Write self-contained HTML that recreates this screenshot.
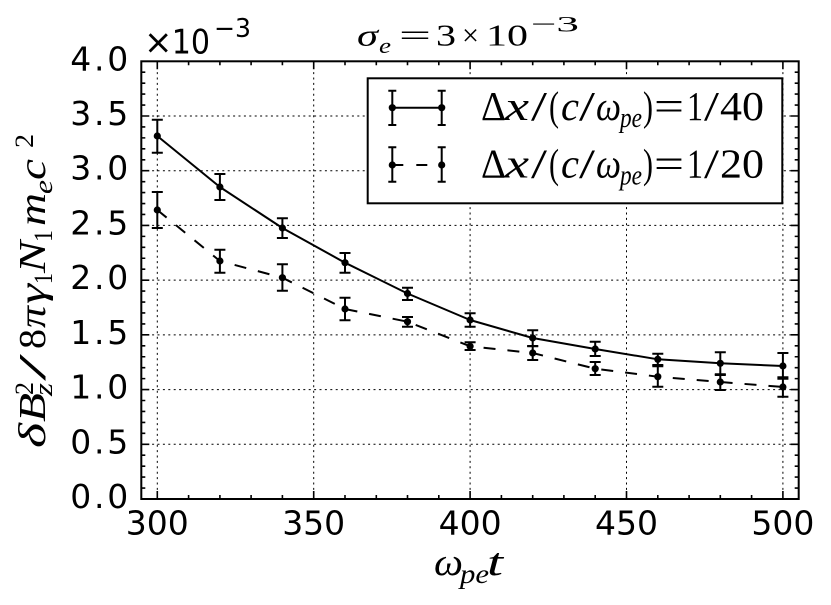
<!DOCTYPE html>
<html>
<head>
<meta charset="utf-8">
<style>
  html, body { margin: 0; padding: 0; background: #ffffff; }
  svg { display: block; }
  .tick { font-family: "DejaVu Sans", "Liberation Sans", sans-serif; font-size: 33px; fill: #000; }
  .m { font-family: "Liberation Serif", "DejaVu Serif", serif; fill: #000; }
  .i { font-style: italic; }
</style>
</head>
<body>
<svg width="831" height="605" viewBox="0 0 831 605" xmlns="http://www.w3.org/2000/svg">
  <rect x="0" y="0" width="831" height="605" fill="#ffffff"/>

  <!-- grid -->
  <g stroke="#000" stroke-width="1" stroke-dasharray="2 3.4" fill="none">
    <path d="M157.3 61.3 V499 M313.7 61.3 V499 M470.1 61.3 V499 M626.5 61.3 V499 M782.9 61.3 V499"/>
    <path d="M141.3 444.29 H798.7 M141.3 389.57 H798.7 M141.3 334.86 H798.7 M141.3 280.14 H798.7 M141.3 225.43 H798.7 M141.3 170.71 H798.7 M141.3 116.0 H798.7"/>
  </g>

  <!-- ticks -->
  <g stroke="#000" stroke-width="1.6" fill="none">
    <path d="M157.3 499 v-8 M313.7 499 v-8 M470.1 499 v-8 M626.5 499 v-8 M782.9 499 v-8"/>
    <path d="M157.3 61.3 v8 M313.7 61.3 v8 M470.1 61.3 v8 M626.5 61.3 v8 M782.9 61.3 v8"/>
    <path d="M188.6 499 v-4 M219.9 499 v-4 M251.1 499 v-4 M282.4 499 v-4 M345.0 499 v-4 M376.3 499 v-4 M407.5 499 v-4 M438.8 499 v-4 M501.4 499 v-4 M532.7 499 v-4 M563.9 499 v-4 M595.2 499 v-4 M657.8 499 v-4 M689.1 499 v-4 M720.3 499 v-4 M751.6 499 v-4"/>
    <path d="M188.6 61.3 v4 M219.9 61.3 v4 M251.1 61.3 v4 M282.4 61.3 v4 M345.0 61.3 v4 M376.3 61.3 v4 M407.5 61.3 v4 M438.8 61.3 v4 M501.4 61.3 v4 M532.7 61.3 v4 M563.9 61.3 v4 M595.2 61.3 v4 M657.8 61.3 v4 M689.1 61.3 v4 M720.3 61.3 v4 M751.6 61.3 v4"/>
    <path d="M141.3 444.29 h8 M141.3 389.57 h8 M141.3 334.86 h8 M141.3 280.14 h8 M141.3 225.43 h8 M141.3 170.71 h8 M141.3 116.0 h8"/>
    <path d="M798.7 444.29 h-8 M798.7 389.57 h-8 M798.7 334.86 h-8 M798.7 280.14 h-8 M798.7 225.43 h-8 M798.7 170.71 h-8 M798.7 116.0 h-8"/>
    <path d="M141.3 488.06 h4 M141.3 477.11 h4 M141.3 466.17 h4 M141.3 455.23 h4 M141.3 433.34 h4 M141.3 422.40 h4 M141.3 411.46 h4 M141.3 400.51 h4 M141.3 378.63 h4 M141.3 367.68 h4 M141.3 356.74 h4 M141.3 345.80 h4 M141.3 323.91 h4 M141.3 312.97 h4 M141.3 302.03 h4 M141.3 291.08 h4 M141.3 269.20 h4 M141.3 258.25 h4 M141.3 247.31 h4 M141.3 236.37 h4 M141.3 214.48 h4 M141.3 203.54 h4 M141.3 192.60 h4 M141.3 181.65 h4 M141.3 159.77 h4 M141.3 148.82 h4 M141.3 137.88 h4 M141.3 126.94 h4 M141.3 105.05 h4 M141.3 94.11 h4 M141.3 83.17 h4 M141.3 72.22 h4"/>
    <path d="M798.7 488.06 h-4 M798.7 477.11 h-4 M798.7 466.17 h-4 M798.7 455.23 h-4 M798.7 433.34 h-4 M798.7 422.40 h-4 M798.7 411.46 h-4 M798.7 400.51 h-4 M798.7 378.63 h-4 M798.7 367.68 h-4 M798.7 356.74 h-4 M798.7 345.80 h-4 M798.7 323.91 h-4 M798.7 312.97 h-4 M798.7 302.03 h-4 M798.7 291.08 h-4 M798.7 269.20 h-4 M798.7 258.25 h-4 M798.7 247.31 h-4 M798.7 236.37 h-4 M798.7 214.48 h-4 M798.7 203.54 h-4 M798.7 192.60 h-4 M798.7 181.65 h-4 M798.7 159.77 h-4 M798.7 148.82 h-4 M798.7 137.88 h-4 M798.7 126.94 h-4 M798.7 105.05 h-4 M798.7 94.11 h-4 M798.7 83.17 h-4 M798.7 72.22 h-4"/>
  </g>

  <!-- solid series -->
  <polyline fill="none" stroke="#000" stroke-width="2" stroke-linejoin="round"
    points="157.3,136 219.9,187 282.4,228 345.0,262.7 407.5,293.5 470.1,320 532.7,338 595.2,349 657.8,359.3 720.3,363.3 782.9,366"/>
  <!-- dashed series -->
  <polyline fill="none" stroke="#000" stroke-width="2" stroke-dasharray="12 12"
    points="157.3,210 219.9,261 282.4,277.7 345.0,309 407.5,321.7 470.1,346.3 532.7,353 595.2,368.7 657.8,376.7 720.3,382 782.9,387"/>

  <!-- error bars -->
  <g stroke="#000" stroke-width="2" fill="none">
    <path d="M157.3 119.7 V152.7 M151.8 119.7 h11 M151.8 152.7 h11
             M219.9 174 V200 M214.4 174 h11 M214.4 200 h11
             M282.4 218.3 V238 M276.9 218.3 h11 M276.9 238 h11
             M345.0 253 V272.7 M339.5 253 h11 M339.5 272.7 h11
             M407.5 287.7 V300 M402 287.7 h11 M402 300 h11
             M470.1 313.3 V326.7 M464.6 313.3 h11 M464.6 326.7 h11
             M532.7 330.3 V346.3 M527.2 330.3 h11 M527.2 346.3 h11
             M595.2 341.7 V356 M589.7 341.7 h11 M589.7 356 h11
             M657.8 353.7 V366.3 M652.3 353.7 h11 M652.3 366.3 h11
             M720.3 352.3 V374.3 M714.8 352.3 h11 M714.8 374.3 h11
             M782.9 353 V378.7 M777.4 353 h11 M777.4 378.7 h11"/>
    <path d="M157.3 192 V228 M151.8 192 h11 M151.8 228 h11
             M219.9 249.7 V272.7 M214.4 249.7 h11 M214.4 272.7 h11
             M282.4 264.3 V290.7 M276.9 264.3 h11 M276.9 290.7 h11
             M345.0 297.7 V320.3 M339.5 297.7 h11 M339.5 320.3 h11
             M407.5 317 V326.7 M402 317 h11 M402 326.7 h11
             M470.1 342.3 V350 M464.6 342.3 h11 M464.6 350 h11
             M532.7 346 V360 M527.2 346 h11 M527.2 360 h11
             M595.2 362 V375 M589.7 362 h11 M589.7 375 h11
             M657.8 365 V386.7 M652.3 365 h11 M652.3 386.7 h11
             M720.3 375 V390 M714.8 375 h11 M714.8 390 h11
             M782.9 377.3 V396.7 M777.4 377.3 h11 M777.4 396.7 h11"/>
  </g>

  <!-- markers -->
  <g fill="#000">
    <circle cx="157.3" cy="136" r="3.6"/><circle cx="219.9" cy="187" r="3.6"/><circle cx="282.4" cy="228" r="3.6"/>
    <circle cx="345.0" cy="262.7" r="3.6"/><circle cx="407.5" cy="293.5" r="3.6"/><circle cx="470.1" cy="320" r="3.6"/>
    <circle cx="532.7" cy="338" r="3.6"/><circle cx="595.2" cy="349" r="3.6"/><circle cx="657.8" cy="359.3" r="3.6"/>
    <circle cx="720.3" cy="363.3" r="3.6"/><circle cx="782.9" cy="366" r="3.6"/>
    <circle cx="157.3" cy="210" r="3.6"/><circle cx="219.9" cy="261" r="3.6"/><circle cx="282.4" cy="277.7" r="3.6"/>
    <circle cx="345.0" cy="309" r="3.6"/><circle cx="407.5" cy="321.7" r="3.6"/><circle cx="470.1" cy="346.3" r="3.6"/>
    <circle cx="532.7" cy="353" r="3.6"/><circle cx="595.2" cy="368.7" r="3.6"/><circle cx="657.8" cy="376.7" r="3.6"/>
    <circle cx="720.3" cy="382" r="3.6"/><circle cx="782.9" cy="387" r="3.6"/>
  </g>

  <!-- legend -->
  <rect x="367.7" y="78.3" width="414.6" height="125" fill="#fff" stroke="#000" stroke-width="2"/>
  <g stroke="#000" stroke-width="2" fill="none">
    <path d="M392.3 107.7 H441.7"/>
    <path d="M392.3 90.7 V125 M388.3 90.7 h8 M388.3 125 h8 M441.7 90.7 V125 M437.7 90.7 h8 M437.7 125 h8"/>
    <path d="M392.3 165 H441.7" stroke-dasharray="11 13"/>
    <path d="M392.3 147.3 V181.7 M388.3 147.3 h8 M388.3 181.7 h8 M441.7 147.3 V181.7 M437.7 147.3 h8 M437.7 181.7 h8"/>
  </g>
  <g fill="#000">
    <circle cx="392.3" cy="107.7" r="3.6"/><circle cx="441.7" cy="107.7" r="3.6"/>
    <circle cx="392.3" cy="165" r="3.6"/><circle cx="441.7" cy="165" r="3.6"/>
  </g>
  <g class="m" font-size="41">
    <text x="481" y="120" textLength="25" lengthAdjust="spacingAndGlyphs">Δ</text>
    <text x="505" y="120" class="i" textLength="24" lengthAdjust="spacingAndGlyphs">x</text>
    <text x="531" y="120" textLength="16" lengthAdjust="spacingAndGlyphs">/</text>
    <text x="549" y="120" textLength="10" lengthAdjust="spacingAndGlyphs">(</text>
    <text x="561" y="120" class="i" textLength="18" lengthAdjust="spacingAndGlyphs">c</text>
    <text x="579" y="120" textLength="16" lengthAdjust="spacingAndGlyphs">/</text>
    <text x="596" y="120" class="i" textLength="25" lengthAdjust="spacingAndGlyphs">ω</text>
    <text x="620" y="127" class="i" font-size="28" textLength="22" lengthAdjust="spacingAndGlyphs">pe</text>
    <text x="643" y="120" textLength="10" lengthAdjust="spacingAndGlyphs">)</text>
    <text x="654" y="120" textLength="30" lengthAdjust="spacingAndGlyphs">=</text>
    <text x="687" y="120" textLength="16" lengthAdjust="spacingAndGlyphs">1</text>
    <text x="704" y="120" textLength="15" lengthAdjust="spacingAndGlyphs">/</text>
    <text x="720" y="120" textLength="44" lengthAdjust="spacingAndGlyphs">40</text>

    <text x="481" y="177.3" textLength="25" lengthAdjust="spacingAndGlyphs">Δ</text>
    <text x="505" y="177.3" class="i" textLength="24" lengthAdjust="spacingAndGlyphs">x</text>
    <text x="531" y="177.3" textLength="16" lengthAdjust="spacingAndGlyphs">/</text>
    <text x="549" y="177.3" textLength="10" lengthAdjust="spacingAndGlyphs">(</text>
    <text x="561" y="177.3" class="i" textLength="18" lengthAdjust="spacingAndGlyphs">c</text>
    <text x="579" y="177.3" textLength="16" lengthAdjust="spacingAndGlyphs">/</text>
    <text x="596" y="177.3" class="i" textLength="25" lengthAdjust="spacingAndGlyphs">ω</text>
    <text x="620" y="184.3" class="i" font-size="28" textLength="22" lengthAdjust="spacingAndGlyphs">pe</text>
    <text x="643" y="177.3" textLength="10" lengthAdjust="spacingAndGlyphs">)</text>
    <text x="654" y="177.3" textLength="30" lengthAdjust="spacingAndGlyphs">=</text>
    <text x="687" y="177.3" textLength="16" lengthAdjust="spacingAndGlyphs">1</text>
    <text x="704" y="177.3" textLength="15" lengthAdjust="spacingAndGlyphs">/</text>
    <text x="720" y="177.3" textLength="44" lengthAdjust="spacingAndGlyphs">20</text>
  </g>

  <!-- spines -->
  <rect x="141.3" y="61.3" width="657.4" height="437.7" fill="none" stroke="#000" stroke-width="2"/>

  <!-- y tick labels -->
  <g class="tick" text-anchor="end">
    <text x="128.3" y="508" textLength="58" lengthAdjust="spacing">0.0</text>
    <text x="128.3" y="453.3" textLength="58" lengthAdjust="spacing">0.5</text>
    <text x="128.3" y="398.6" textLength="58" lengthAdjust="spacing">1.0</text>
    <text x="128.3" y="343.9" textLength="58" lengthAdjust="spacing">1.5</text>
    <text x="128.3" y="289.1" textLength="58" lengthAdjust="spacing">2.0</text>
    <text x="128.3" y="234.4" textLength="58" lengthAdjust="spacing">2.5</text>
    <text x="128.3" y="179.7" textLength="58" lengthAdjust="spacing">3.0</text>
    <text x="128.3" y="125.0" textLength="58" lengthAdjust="spacing">3.5</text>
    <text x="128.3" y="70.3" textLength="58" lengthAdjust="spacing">4.0</text>
  </g>
  <!-- x tick labels -->
  <g class="tick" text-anchor="middle">
    <text x="157.3" y="534.3">300</text>
    <text x="313.7" y="534.3">350</text>
    <text x="470.1" y="534.3">400</text>
    <text x="626.5" y="534.3">450</text>
    <text x="782.9" y="534.3">500</text>
  </g>

  <!-- offset text -->
  <g class="tick">
    <text x="144" y="53.3" font-size="34">×</text>
    <text x="171.7" y="53.3" font-size="34" textLength="38.3" lengthAdjust="spacingAndGlyphs">10</text>
    <text x="214" y="37" font-size="26" textLength="37" lengthAdjust="spacingAndGlyphs">−3</text>
  </g>

  <!-- title -->
  <g class="m" font-size="31">
    <text x="357" y="45.7" class="i" textLength="21" lengthAdjust="spacingAndGlyphs">σ</text>
    <text x="379" y="53" class="i" font-size="22" textLength="12" lengthAdjust="spacingAndGlyphs">e</text>
    <text x="399" y="45.7" textLength="32" lengthAdjust="spacingAndGlyphs">=</text>
    <text x="436" y="45.7" textLength="20" lengthAdjust="spacingAndGlyphs">3</text>
    <text x="462" y="45.7" textLength="17" lengthAdjust="spacingAndGlyphs">×</text>
    <text x="486" y="45.7" textLength="42" lengthAdjust="spacingAndGlyphs">10</text>
    <text x="531" y="31.7" font-size="22" textLength="48" lengthAdjust="spacingAndGlyphs">−3</text>
  </g>

  <!-- x label -->
  <g class="m" font-size="39">
    <text x="434" y="575" class="i" textLength="29" lengthAdjust="spacingAndGlyphs">ω</text>
    <text x="460" y="583" class="i" font-size="27" textLength="29" lengthAdjust="spacingAndGlyphs">pe</text>
    <text x="487" y="575" class="i" textLength="16" lengthAdjust="spacingAndGlyphs">t</text>
  </g>

  <!-- y label -->
  <g class="m" font-size="38" transform="translate(45,448) rotate(-90)">
    <text x="0" y="0" class="i" textLength="25" lengthAdjust="spacingAndGlyphs">δ</text>
    <text x="26" y="0" class="i" textLength="29" lengthAdjust="spacingAndGlyphs">B</text>
    <text x="53" y="-12" font-size="26" textLength="13" lengthAdjust="spacingAndGlyphs">2</text>
    <text x="52" y="7" class="i" font-size="26" textLength="13" lengthAdjust="spacingAndGlyphs">z</text>
    <text x="67" y="0" textLength="27" lengthAdjust="spacingAndGlyphs">/</text>
    <text x="99" y="0" textLength="20" lengthAdjust="spacingAndGlyphs">8</text>
    <text x="120" y="0" class="i" textLength="22" lengthAdjust="spacingAndGlyphs">π</text>
    <text x="144" y="0" class="i" textLength="20" lengthAdjust="spacingAndGlyphs">γ</text>
    <text x="164" y="7" font-size="26" textLength="11" lengthAdjust="spacingAndGlyphs">1</text>
    <text x="175" y="0" class="i" textLength="32" lengthAdjust="spacingAndGlyphs">N</text>
    <text x="206" y="7" font-size="26" textLength="12" lengthAdjust="spacingAndGlyphs">1</text>
    <text x="222" y="0" class="i" textLength="33" lengthAdjust="spacingAndGlyphs">m</text>
    <text x="254" y="7" class="i" font-size="26" textLength="14" lengthAdjust="spacingAndGlyphs">e</text>
    <text x="268" y="0" class="i" textLength="21" lengthAdjust="spacingAndGlyphs">c</text>
    <text x="300" y="-12" font-size="26" textLength="14" lengthAdjust="spacingAndGlyphs">2</text>
  </g>
</svg>
</body>
</html>
